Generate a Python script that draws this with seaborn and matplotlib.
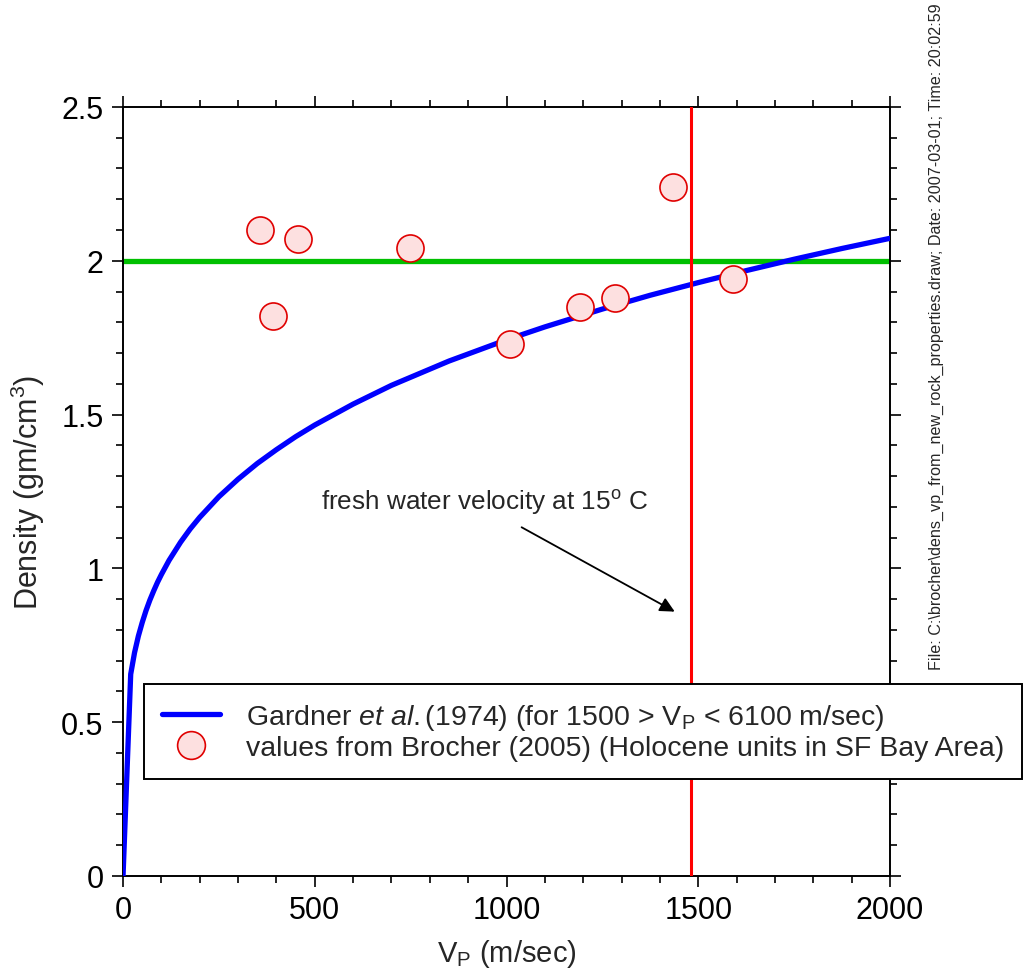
import matplotlib
matplotlib.use("Agg")
import matplotlib.pyplot as plt
import numpy as np
import pandas as pd
import seaborn as sns
from matplotlib.lines import Line2D
from matplotlib.ticker import MultipleLocator

# Gardner et al. (1974) curve.
gardner_vp = [0, 20, 30, 40, 50, 60, 70, 80, 90, 100, 120, 150, 175, 200,
              250, 300, 350, 400, 450, 500, 600, 700, 850, 1000, 1100, 1250,
              1375, 1500, 1625, 1750, 1875, 2000]
gardner_dens = [0.0, 0.656, 0.726, 0.780, 0.824, 0.863, 0.897, 0.927, 0.955,
                0.980, 1.026, 1.085, 1.128, 1.166, 1.233, 1.290, 1.341, 1.386,
                1.428, 1.466, 1.534, 1.595, 1.674, 1.743, 1.785, 1.843, 1.888,
                1.929, 1.968, 2.005, 2.040, 2.073]

# Brocher (2005) Holocene units.
brocher_vp = [357, 391, 456, 748, 1009, 1192, 1283, 1434, 1591]
brocher_dens = [2.10, 1.82, 2.07, 2.04, 1.73, 1.85, 1.88, 2.24, 1.94]

water_vp = 1480
ref_density = 2.0

sns.set_style("ticks")
plt.rcParams["font.family"] = ["Liberation Sans", "DejaVu Sans"]
plt.rcParams["mathtext.fontset"] = "custom"
plt.rcParams["mathtext.rm"] = "Liberation Sans"
plt.rcParams["mathtext.it"] = "Liberation Sans:italic"

fig = plt.figure(figsize=(10.27, 9.70), dpi=100)
ax = fig.add_axes([0.1198, 0.0959, 0.8666 - 0.1198, 0.8887 - 0.0959])

curve = pd.DataFrame({"vp": gardner_vp, "dens": gardner_dens})
pts = pd.DataFrame({"vp": brocher_vp, "dens": brocher_dens})

ax.axhline(ref_density, color="#00c000", lw=3.8, zorder=2)
sns.lineplot(data=curve, x="vp", y="dens", ax=ax, color="#0000ff", lw=3.8,
             zorder=3, sort=False)
ax.axvline(water_vp, color="#ff0000", lw=2.2, zorder=4)
sns.scatterplot(data=pts, x="vp", y="dens", ax=ax, s=380, color="#fde0e0",
                edgecolor="#e00000", linewidth=1.2, zorder=5)

ax.text(516, 1.216, "fresh water velocity at 15$^\\mathrm{o}$ C",
        fontsize=18.8, ha="left", va="center")
ax.annotate("", xy=(1445, 0.855), xytext=(1033, 1.138),
            arrowprops=dict(arrowstyle="-|>", color="black", lw=1.3,
                            mutation_scale=22))

ax.set_xlim(0, 2000)
ax.set_ylim(0, 2.5)
ax.xaxis.set_major_locator(MultipleLocator(500))
ax.xaxis.set_minor_locator(MultipleLocator(100))
ax.yaxis.set_major_locator(MultipleLocator(0.5))
ax.yaxis.set_minor_locator(MultipleLocator(0.1))
ax.set_xticks([0, 500, 1000, 1500, 2000])
ax.set_xticklabels(["0", "500", "1000", "1500", "2000"])
ax.set_yticks([0, 0.5, 1, 1.5, 2, 2.5])
ax.set_yticklabels(["0", "0.5", "1", "1.5", "2", "2.5"])

ax.tick_params(which="both", direction="out", top=True, right=True,
               width=1.2, labelsize=22, colors="black")
ax.tick_params(which="major", length=8, pad=6)
ax.tick_params(which="minor", length=5)
for sp in ax.spines.values():
    sp.set_visible(True)
    sp.set_linewidth(1.4)
    sp.set_color("black")

ax.set_xlabel("V$_\\mathrm{P}$ (m/sec)", fontsize=21, labelpad=8)
ax.set_ylabel("Density (gm/cm$^3$)", fontsize=22, labelpad=10)

handles = [
    Line2D([], [], color="#0000ff", lw=3.8),
    Line2D([], [], ls="none", marker="o", markersize=20,
           markerfacecolor="#fde0e0", markeredgecolor="#e00000",
           markeredgewidth=1.2),
]
labels = [
    "Gardner $\\mathit{et\\ al.}$(1974) (for 1500 > V$_\\mathrm{P}$ < 6100 m/sec)",
    "values from Brocher (2005) (Holocene units in SF Bay Area)",
]
leg = ax.legend(handles, labels, loc="upper left",
                bbox_to_anchor=(144 / 1027, 1 - 685 / 970),
                bbox_transform=fig.transFigure, fontsize=20.5, frameon=True,
                fancybox=False, framealpha=1, edgecolor="black",
                borderpad=0.62, labelspacing=0.12, handlelength=2.05,
                handletextpad=0.9, borderaxespad=0)
leg.get_frame().set_linewidth(1.4)
leg.set_zorder(10)

fig.text(0.912, 0.997,
         "File: C:\\brocher\\dens_vp_from_new_rock_properties.draw; "
         "Date: 2007-03-01; Time: 20:02:59",
         rotation=90, ha="center", va="top", fontsize=11.6)

fig.savefig("out.png", dpi=100)
